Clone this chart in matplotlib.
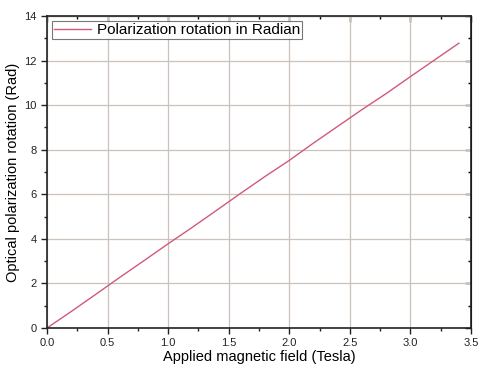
import numpy as np
import matplotlib
matplotlib.use("Agg")
import matplotlib.pyplot as plt
from matplotlib.ticker import MultipleLocator

plt.rcParams['font.family'] = ['Liberation Sans', 'DejaVu Sans']

# values
field = [0.0, 0.2, 0.4, 0.6, 0.8, 1.0, 1.2, 1.4, 1.6, 1.8, 2.0, 2.2, 2.4, 2.6, 2.8, 3.0, 3.2, 3.4]
rotation = [0.0, 0.74, 1.50, 2.27, 3.02, 3.78, 4.52, 5.28, 6.05, 6.80, 7.52, 8.30, 9.05, 9.80, 10.52, 11.28, 12.03, 12.78]

fig = plt.figure(figsize=(4.8, 3.72), dpi=100)
ax = fig.add_axes([47/480, 1 - 328/372, (471-47)/480, (328-16)/372])

ax.plot(field, rotation, color='#d05a7a', lw=1.0, label='Polarization rotation in Radian')

ax.set_xlim(0, 3.5)
ax.set_ylim(0, 14)
ax.xaxis.set_major_locator(MultipleLocator(0.5))
ax.xaxis.set_minor_locator(MultipleLocator(0.25))
ax.yaxis.set_major_locator(MultipleLocator(2))
ax.yaxis.set_minor_locator(MultipleLocator(1))
ax.set_xticklabels([f'{v:.1f}' for v in ax.get_xticks()])

ax.grid(True, which='major', color='#cbc3bb', lw=0.9)
ax.set_axisbelow(True)
ax.tick_params(which='both', direction='out', labelsize=8, width=1.0, colors='#222222')
ax.tick_params(which='major', length=4)
ax.tick_params(which='minor', length=2.5)
for s in ax.spines.values():
    s.set_linewidth(1.2)
    s.set_color('#222222')

# top/right ticks drawn inward like the original
top = ax.secondary_xaxis('top')
top.xaxis.set_major_locator(MultipleLocator(0.5))
top.xaxis.set_minor_locator(MultipleLocator(0.25))
top.tick_params(which='both', direction='in', labeltop=False, width=1.0)
top.tick_params(which='major', length=4)
top.tick_params(which='minor', length=2.5)
right = ax.secondary_yaxis('right')
right.yaxis.set_major_locator(MultipleLocator(2))
right.yaxis.set_minor_locator(MultipleLocator(1))
right.tick_params(which='both', direction='in', labelright=False, width=1.0)
right.tick_params(which='major', length=4)
right.tick_params(which='minor', length=2.5)

ax.set_xlabel('Applied magnetic field (Tesla)', fontsize=10.5, labelpad=1)
ax.set_ylabel('Optical polarization rotation (Rad)', fontsize=10.5, labelpad=3)

leg = ax.legend(loc='upper left', fontsize=11, frameon=True, fancybox=False,
                borderaxespad=0.3, handlelength=2.4, handletextpad=0.4, borderpad=0.15)
leg.get_frame().set_edgecolor('#555555')
leg.get_frame().set_linewidth(0.8)

fig.savefig('out.png', dpi=100)
